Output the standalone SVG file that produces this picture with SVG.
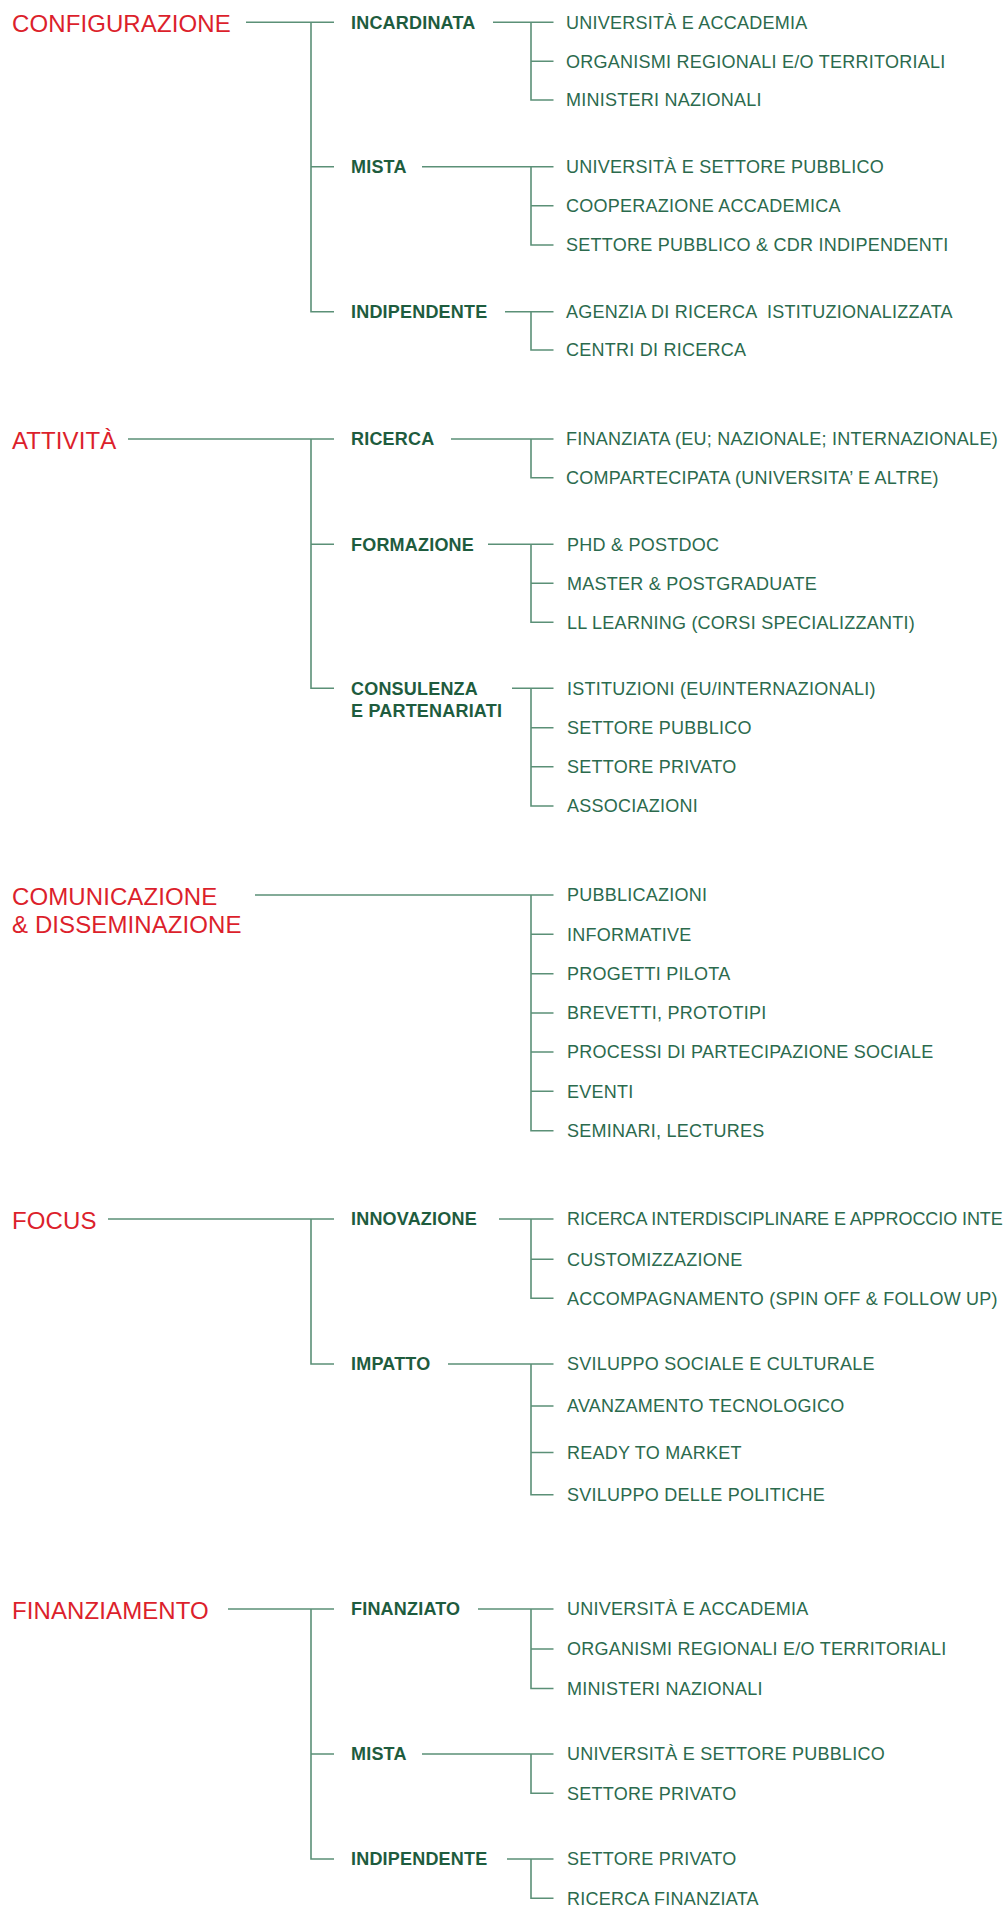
<svg xmlns="http://www.w3.org/2000/svg" width="1007" height="1908" viewBox="0 0 1007 1908">
<style>
.h{font-family:"Liberation Sans",Arial,sans-serif;font-size:24px;fill:#dc1f2c;letter-spacing:0.1px}
.b{font-family:"Liberation Sans",Arial,sans-serif;font-size:18px;font-weight:bold;fill:#1e5c3e;letter-spacing:0.2px}
.t{font-family:"Liberation Sans",Arial,sans-serif;font-size:18px;fill:#2b6a4d;letter-spacing:0.25px}
.ln{fill:none;stroke:#5b9077;stroke-width:1.6}
</style>
<rect width="1007" height="1908" fill="#ffffff"/>
<g id="connectors" class="ln">
<path d="M246,22.3H334M311,22.3V311.7H334M311,166.7H334"/>
<path d="M493,22.3H553.5M531,22.3V100H553.5M531,61.3H553.5"/>
<path d="M422,166.7H553.5M531,166.7V245H553.5M531,205.7H553.5"/>
<path d="M505,311.7H553.5M531,311.7V350H553.5"/>
<path d="M128,439H334M311,439V688.3H334M311,544.3H334"/>
<path d="M451,439H553.5M531,439V477.7H553.5"/>
<path d="M488,544.3H553.5M531,544.3V622.3H553.5M531,583.3H553.5"/>
<path d="M512,688.3H553.5M531,688.3V806H553.5M531,727.7H553.5M531,766.7H553.5"/>
<path d="M255,895H553.5M531,895V1130.7H553.5M531,934.3H553.5M531,973.7H553.5M531,1013H553.5M531,1052H553.5M531,1091.3H553.5"/>
<path d="M108,1219H334M311,1219V1364H334"/>
<path d="M499,1219H553.5M531,1219V1298.3H553.5M531,1259.3H553.5"/>
<path d="M448,1364H553.5M531,1364V1494.7H553.5M531,1406H553.5M531,1452.5H553.5"/>
<path d="M228,1609H334M311,1609V1859H334M311,1754H334"/>
<path d="M478,1609H553.5M531,1609V1688.5H553.5M531,1649H553.5"/>
<path d="M422,1754H553.5M531,1754V1793.3H553.5"/>
<path d="M507,1859H553.5M531,1859V1898.3H553.5"/>
</g>

<g id="configurazione"><text class="h" x="12" y="32.3">CONFIGURAZIONE</text></g>
<g id="cfg-incardinata"><text class="b" x="351" y="28.7">INCARDINATA</text></g>
<g id="cfg-inc-1"><text class="t" x="566" y="28.7">UNIVERSITÀ E ACCADEMIA</text></g>
<g id="cfg-inc-2"><text class="t" x="566" y="67.7">ORGANISMI REGIONALI E/O TERRITORIALI</text></g>
<g id="cfg-inc-3"><text class="t" x="566" y="106.4">MINISTERI NAZIONALI</text></g>
<g id="cfg-mista"><text class="b" x="351" y="173.1">MISTA</text></g>
<g id="cfg-mis-1"><text class="t" x="566" y="173.1">UNIVERSITÀ E SETTORE PUBBLICO</text></g>
<g id="cfg-mis-2"><text class="t" x="566" y="212.1">COOPERAZIONE ACCADEMICA</text></g>
<g id="cfg-mis-3"><text class="t" x="566" y="251.4">SETTORE PUBBLICO &amp; CDR INDIPENDENTI</text></g>
<g id="cfg-indipendente"><text class="b" x="351" y="318.1">INDIPENDENTE</text></g>
<g id="cfg-ind-1"><text class="t" x="566" y="318.1" xml:space="preserve">AGENZIA DI RICERCA  ISTITUZIONALIZZATA</text></g>
<g id="cfg-ind-2"><text class="t" x="566" y="356.4">CENTRI DI RICERCA</text></g>

<g id="attivita"><text class="h" x="12" y="449">ATTIVITÀ</text></g>
<g id="att-ricerca"><text class="b" x="351" y="445.4">RICERCA</text></g>
<g id="att-ric-1"><text class="t" x="566" y="445.4">FINANZIATA (EU; NAZIONALE; INTERNAZIONALE)</text></g>
<g id="att-ric-2"><text class="t" x="566" y="484.1">COMPARTECIPATA (UNIVERSITA’ E ALTRE)</text></g>
<g id="att-formazione"><text class="b" x="351" y="550.7">FORMAZIONE</text></g>
<g id="att-for-1"><text class="t" x="567" y="550.7">PHD &amp; POSTDOC</text></g>
<g id="att-for-2"><text class="t" x="567" y="589.7">MASTER &amp; POSTGRADUATE</text></g>
<g id="att-for-3"><text class="t" x="567" y="628.7">LL LEARNING (CORSI SPECIALIZZANTI)</text></g>
<g id="att-consulenza"><text class="b" x="351" y="695.2">CONSULENZA</text><text class="b" x="351" y="717">E PARTENARIATI</text></g>
<g id="att-con-1"><text class="t" x="567" y="694.7">ISTITUZIONI (EU/INTERNAZIONALI)</text></g>
<g id="att-con-2"><text class="t" x="567" y="734.1">SETTORE PUBBLICO</text></g>
<g id="att-con-3"><text class="t" x="567" y="773.1">SETTORE PRIVATO</text></g>
<g id="att-con-4"><text class="t" x="567" y="812.4">ASSOCIAZIONI</text></g>

<g id="comunicazione"><text class="h" x="12" y="905.3">COMUNICAZIONE</text><text class="h" x="12" y="933.3">&amp; DISSEMINAZIONE</text></g>
<g id="com-1"><text class="t" x="567" y="901.4">PUBBLICAZIONI</text></g>
<g id="com-2"><text class="t" x="567" y="940.7">INFORMATIVE</text></g>
<g id="com-3"><text class="t" x="567" y="980.1">PROGETTI PILOTA</text></g>
<g id="com-4"><text class="t" x="567" y="1019.4">BREVETTI, PROTOTIPI</text></g>
<g id="com-5"><text class="t" x="567" y="1058.4">PROCESSI DI PARTECIPAZIONE SOCIALE</text></g>
<g id="com-6"><text class="t" x="567" y="1097.7">EVENTI</text></g>
<g id="com-7"><text class="t" x="567" y="1137.1">SEMINARI, LECTURES</text></g>

<g id="focus"><text class="h" x="12" y="1229">FOCUS</text></g>
<g id="foc-innovazione"><text class="b" x="351" y="1225.4">INNOVAZIONE</text></g>
<g id="foc-inn-1"><text class="t" x="567" y="1225.4" textLength="436" lengthAdjust="spacing">RICERCA INTERDISCIPLINARE E APPROCCIO INTE</text></g>
<g id="foc-inn-2"><text class="t" x="567" y="1265.7">CUSTOMIZZAZIONE</text></g>
<g id="foc-inn-3"><text class="t" x="567" y="1304.7">ACCOMPAGNAMENTO (SPIN OFF &amp; FOLLOW UP)</text></g>
<g id="foc-impatto"><text class="b" x="351" y="1370.4">IMPATTO</text></g>
<g id="foc-imp-1"><text class="t" x="567" y="1370.4">SVILUPPO SOCIALE E CULTURALE</text></g>
<g id="foc-imp-2"><text class="t" x="567" y="1412.4">AVANZAMENTO TECNOLOGICO</text></g>
<g id="foc-imp-3"><text class="t" x="567" y="1458.9">READY TO MARKET</text></g>
<g id="foc-imp-4"><text class="t" x="567" y="1501.1">SVILUPPO DELLE POLITICHE</text></g>

<g id="finanziamento"><text class="h" x="12" y="1619">FINANZIAMENTO</text></g>
<g id="fin-finanziato"><text class="b" x="351" y="1615.4">FINANZIATO</text></g>
<g id="fin-fin-1"><text class="t" x="567" y="1615.4">UNIVERSITÀ E ACCADEMIA</text></g>
<g id="fin-fin-2"><text class="t" x="567" y="1655.4">ORGANISMI REGIONALI E/O TERRITORIALI</text></g>
<g id="fin-fin-3"><text class="t" x="567" y="1694.9">MINISTERI NAZIONALI</text></g>
<g id="fin-mista"><text class="b" x="351" y="1760.4">MISTA</text></g>
<g id="fin-mis-1"><text class="t" x="567" y="1760.4">UNIVERSITÀ E SETTORE PUBBLICO</text></g>
<g id="fin-mis-2"><text class="t" x="567" y="1799.7">SETTORE PRIVATO</text></g>
<g id="fin-indipendente"><text class="b" x="351" y="1865.4">INDIPENDENTE</text></g>
<g id="fin-ind-1"><text class="t" x="567" y="1865.4">SETTORE PRIVATO</text></g>
<g id="fin-ind-2"><text class="t" x="567" y="1904.7">RICERCA FINANZIATA</text></g>
</svg>
